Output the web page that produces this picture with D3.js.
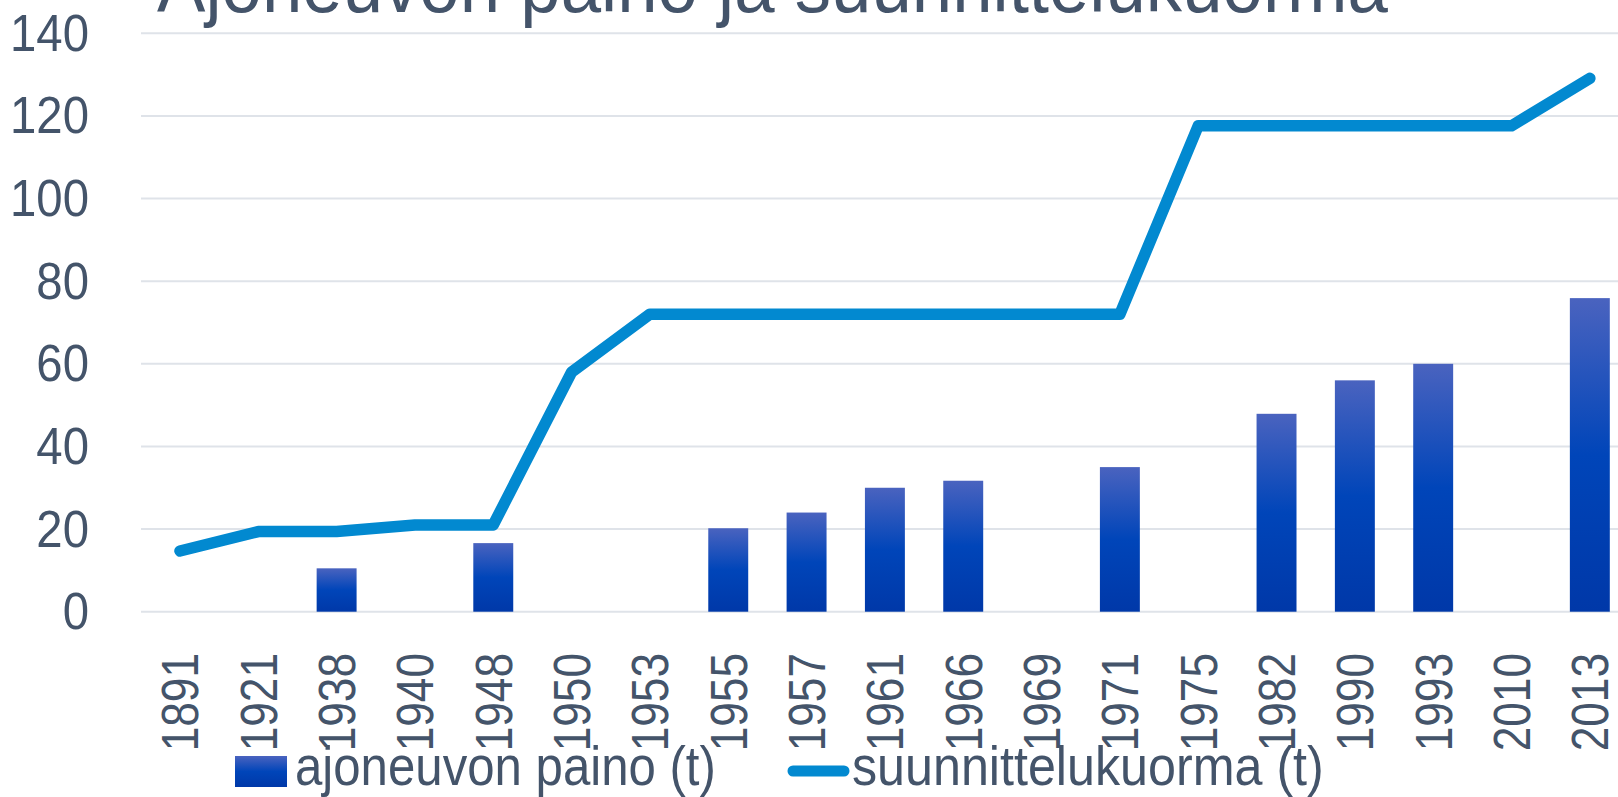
<!DOCTYPE html>
<html>
<head>
<meta charset="utf-8">
<script src="https://cdn.jsdelivr.net/npm/d3@7"></script>
<style>
  html, body { margin: 0; padding: 0; background: #fff; overflow: hidden; }
  svg { display: block; }
  text { font-family: "Liberation Sans", Arial, sans-serif; fill: #44546a; }
</style>
</head>
<body>
<svg id="chart" width="1618" height="797"></svg>
<script>
const title = "Ajoneuvon paino ja suunnittelukuorma";
const years = ["1891","1921","1938","1940","1948","1950","1953","1955","1957","1961","1966","1969","1971","1975","1982","1990","1993","2010","2013"];
const vehicleWeight = [null, null, 10.5, null, 16.6, null, null, 20.2, 24, 30, 31.7, null, 35, null, 47.9, 56, 60, null, 75.9];
const designLoad = [14.7, 19.4, 19.4, 21, 21, 58, 72, 72, 72, 72, 72, 72, 72, 117.6, 117.6, 117.6, 117.6, 117.6, 129.1];
const yTicks = [0, 20, 40, 60, 80, 100, 120, 140];
const seriesNames = ["ajoneuvon paino (t)", "suunnittelukuorma (t)"];

const W = 1618, H = 797;
const NARROW_X = 0.85, NARROW_Y = 0.91;
const svg = d3.select("#chart");

const defs = svg.append("defs");
const grad = defs.append("linearGradient").attr("id", "barGrad")
  .attr("x1", 0).attr("y1", 0).attr("x2", 0).attr("y2", 1);
grad.append("stop").attr("offset", "0%").attr("stop-color", "#4a63bf");
grad.append("stop").attr("offset", "50%").attr("stop-color", "#0045b9");
grad.append("stop").attr("offset", "100%").attr("stop-color", "#0038a8");

const x = d3.scaleBand().domain(years).range([140.8, 1629]).paddingInner(0.49).paddingOuter(0.245);
const y = d3.scaleLinear().domain([0, 140]).range([611.7, 33.3]);

// gridlines
svg.append("g").selectAll("line").data(yTicks).join("line")
  .attr("x1", 141).attr("x2", W)
  .attr("y1", d => y(d)).attr("y2", d => y(d))
  .attr("stroke", "#dfe3e9").attr("stroke-width", 2);

// y axis labels
const yAxis = d3.axisLeft(y).tickValues(yTicks).tickSize(0).tickPadding(0);
const yg = svg.append("g").attr("transform", "translate(89,0)").call(yAxis);
yg.select(".domain").remove();
yg.attr("font-family", null).attr("font-size", null);
yg.selectAll("text")
  .attr("font-size", 52).attr("fill", "#44546a")
  .attr("x", 0).attr("y", 17).attr("dy", null)
  .attr("text-anchor", "end")
  .attr("transform", `scale(${NARROW_Y},1)`);

// bars
const barData = years.map((yr, i) => ({yr, v: vehicleWeight[i]})).filter(d => d.v != null);
svg.append("g").selectAll("rect").data(barData).join("rect")
  .attr("x", d => x(d.yr)).attr("width", x.bandwidth())
  .attr("y", d => y(d.v)).attr("height", d => y(0) - y(d.v))
  .attr("fill", "url(#barGrad)");

// line
const lineData = years.map((yr, i) => ({yr, v: designLoad[i]}));
const line = d3.line().x(d => x(d.yr) + x.bandwidth() / 2).y(d => y(d.v));
svg.append("path").datum(lineData).attr("d", line)
  .attr("fill", "none").attr("stroke", "#0289d0").attr("stroke-width", 11.5)
  .attr("stroke-linejoin", "round").attr("stroke-linecap", "round");

// x axis labels
const xAxis = d3.axisBottom(x).tickSize(0).tickPadding(0);
const xg = svg.append("g").attr("transform", "translate(0,653)").call(xAxis);
xg.select(".domain").remove();
xg.attr("font-family", null).attr("font-size", null);
xg.selectAll("text")
  .attr("font-size", 52).attr("fill", "#44546a")
  .attr("text-anchor", "end")
  .attr("x", 0).attr("y", 0).attr("dy", null)
  .attr("transform", `translate(18.5,0) rotate(-90) scale(${NARROW_X},1)`);

// helper: squeeze a text horizontally to a target width
function fit(sel, x0, y0, target) {
  const w = sel.node().getComputedTextLength();
  const s = w > 0 ? target / w : 1;
  sel.attr("x", 0).attr("y", 0).attr("transform", `translate(${x0},${y0}) scale(${s},1)`);
}

// title
const t = svg.append("text").attr("font-size", 77).text(title);
fit(t, 157, 12, 1231);

// legend
const lg = svg.append("g");
lg.append("rect").attr("x", 235).attr("y", 756).attr("width", 52).attr("height", 31).attr("fill", "url(#barGrad)");
const l1 = lg.append("text").attr("font-size", 55).text(seriesNames[0]);
fit(l1, 295, 785, 421);
lg.append("line").attr("x1", 793).attr("x2", 844).attr("y1", 771).attr("y2", 771)
  .attr("stroke", "#0289d0").attr("stroke-width", 11).attr("stroke-linecap", "round");
const l2 = lg.append("text").attr("font-size", 55).text(seriesNames[1]);
fit(l2, 852, 785, 472);
</script>
</body>
</html>
